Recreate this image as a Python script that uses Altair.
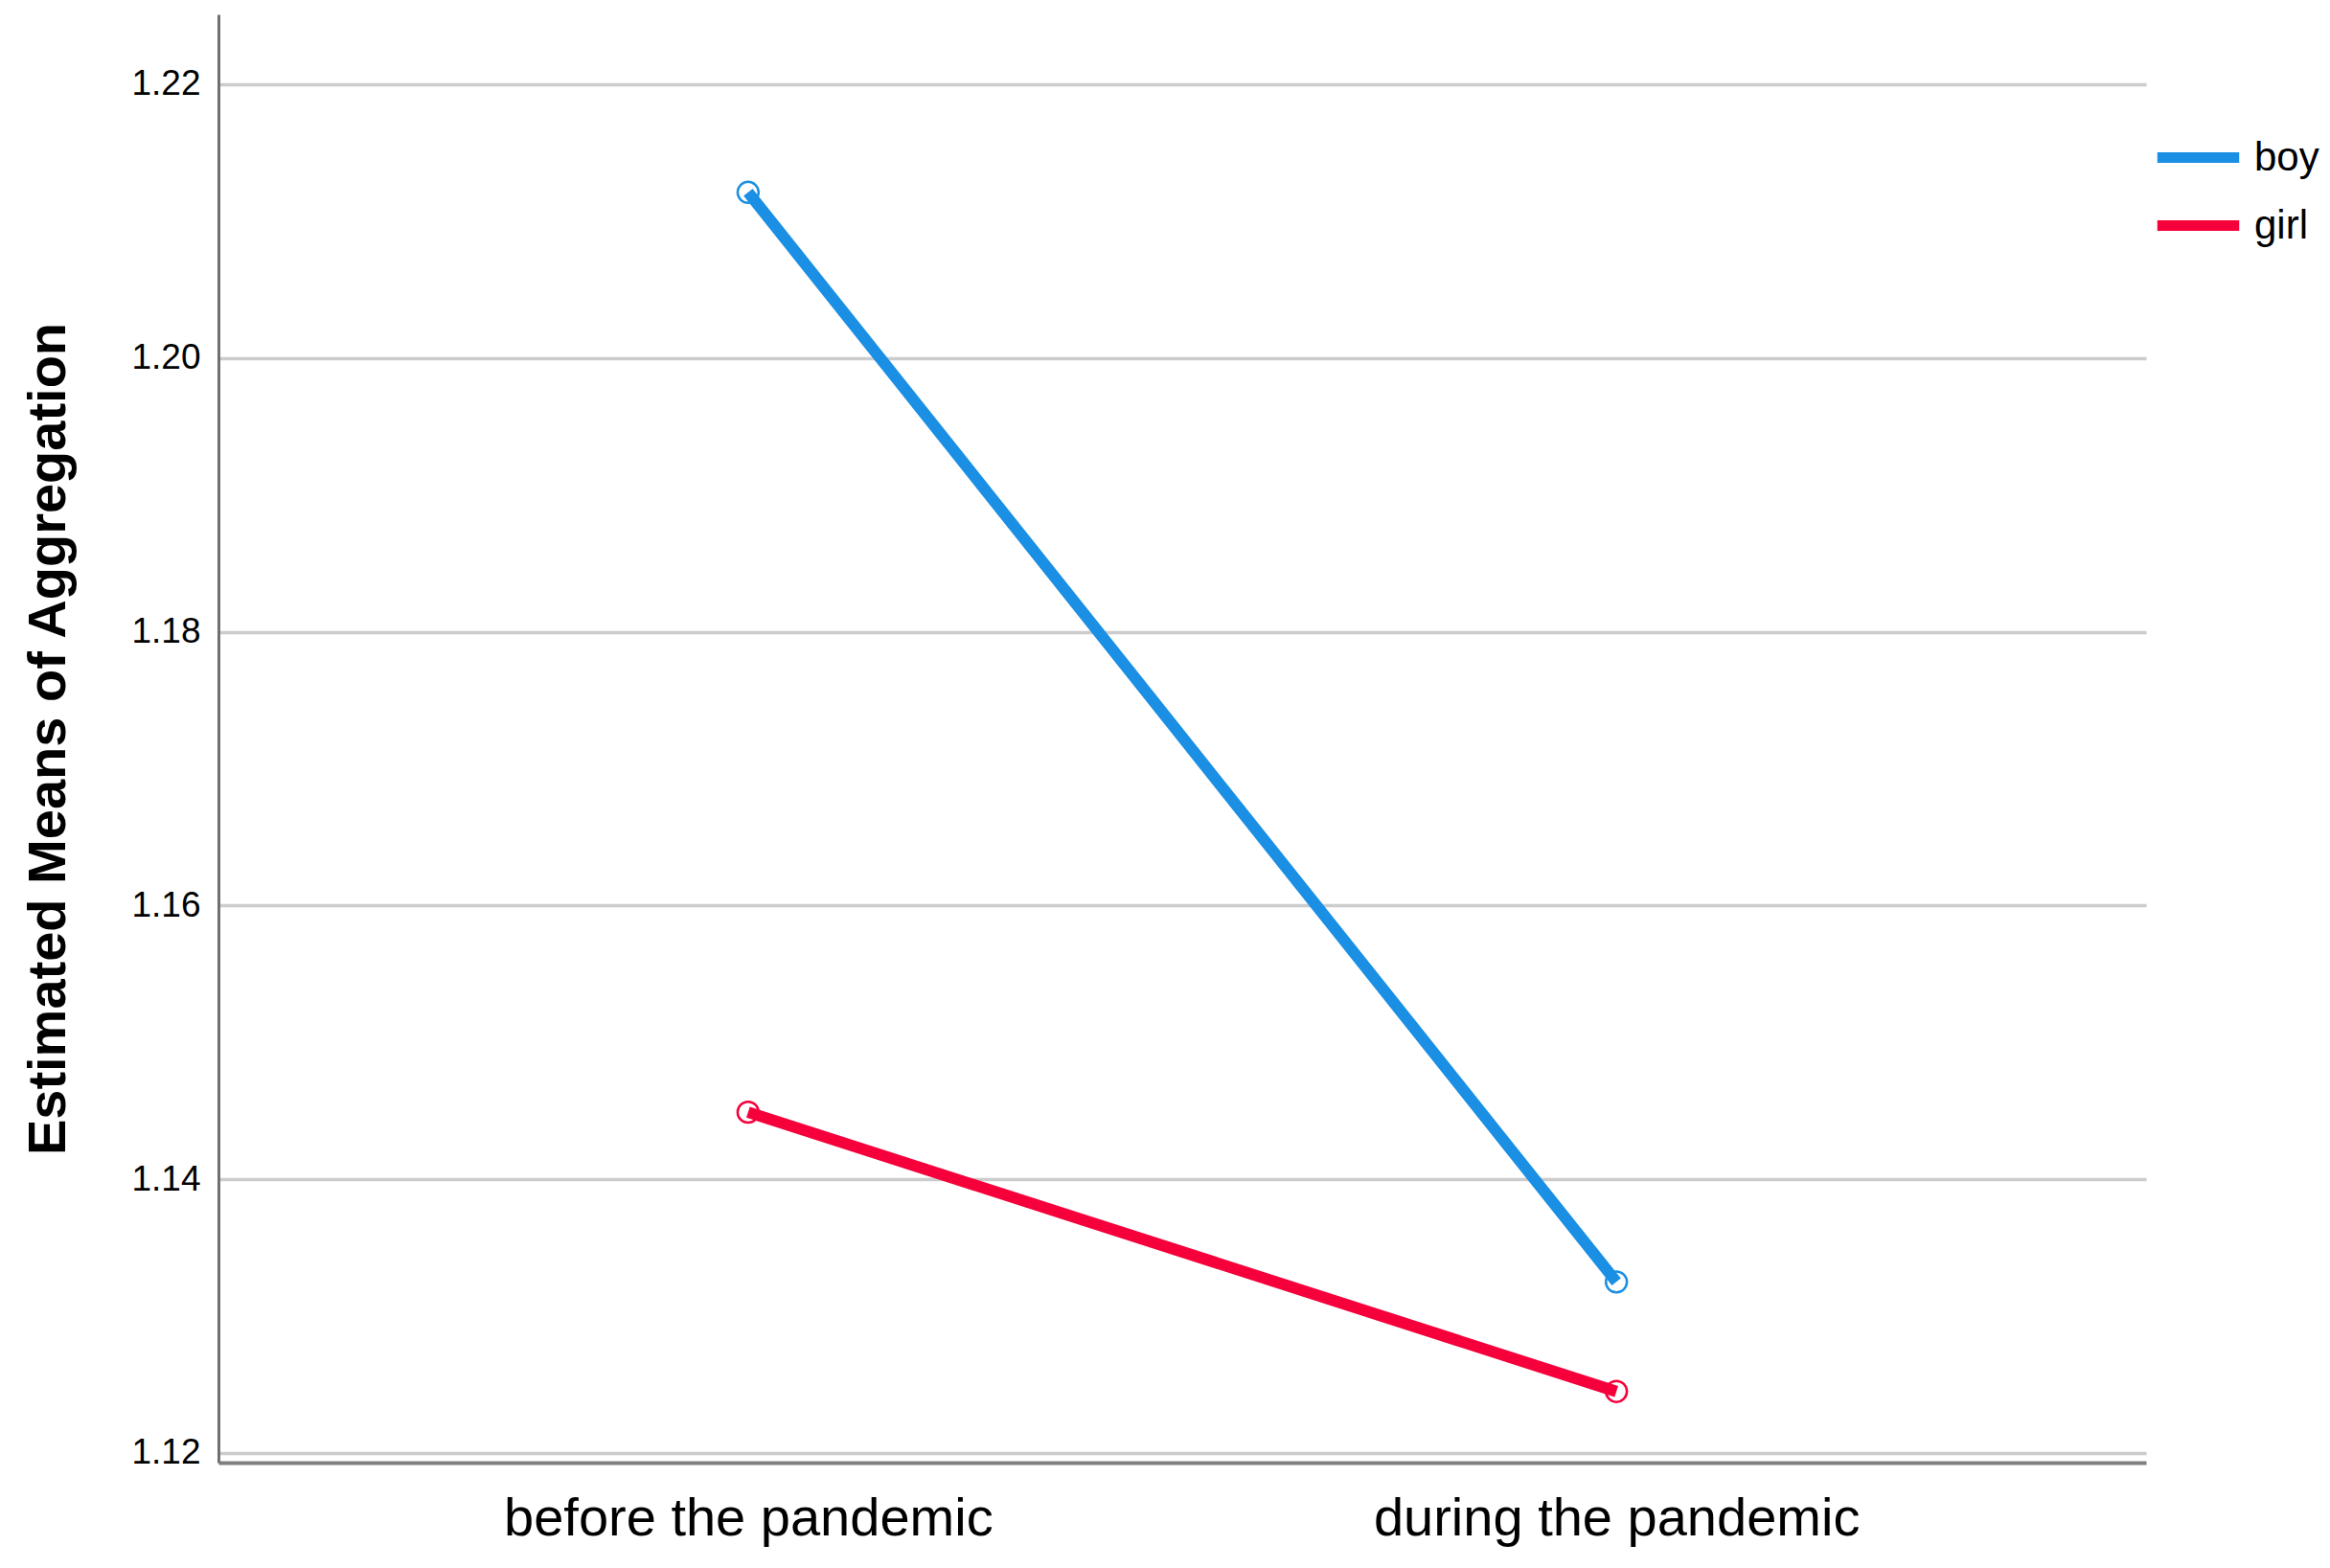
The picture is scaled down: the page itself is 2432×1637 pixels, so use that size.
import altair as alt
import pandas as pd

periods = ["before the pandemic", "during the pandemic"]
boy = [1.2121, 1.1325]
girl = [1.1449, 1.1245]
y_ticks = [1.12, 1.14, 1.16, 1.18, 1.20, 1.22]
groups = ["boy", "girl"]
colors = ["#1a8fe3", "#f5003a"]

rows = []
for p, v in zip(periods, boy):
    rows.append({"period": p, "sex": "boy", "mean": v})
for p, v in zip(periods, girl):
    rows.append({"period": p, "sex": "girl", "mean": v})
df = pd.DataFrame(rows)

FONT = "Liberation Sans"

x = alt.X("period:N", sort=periods,
          scale=alt.Scale(type="point", padding=0.61),
          axis=alt.Axis(title=None, labelFontSize=56, labelFont=FONT, labelColor="#000000",
                        labelPadding=31, labelLimit=0, ticks=False, grid=False,
                        domainColor="#808080", domainWidth=4, labelAngle=0))
y = alt.Y("mean:Q",
          scale=alt.Scale(domain=[1.1193, 1.2251], nice=False, zero=False),
          axis=alt.Axis(title="Estimated Means of Aggregation", values=y_ticks, format=".2f",
                        labelFontSize=37, labelFont=FONT, labelColor="#000000", labelPadding=19,
                        ticks=False, grid=True, gridColor="#cccccc", gridWidth=3.5,
                        domainColor="#707070", domainWidth=3,
                        titleFontSize=56, titleFont=FONT, titleFontWeight="bold",
                        titleColor="#000000", titleX=-178, titleBaseline="middle"))
color = alt.Color("sex:N", scale=alt.Scale(domain=groups, range=colors),
                  legend=alt.Legend(title=None, orient="none", legendX=2018, legendY=101,
                                    symbolType="stroke", symbolSize=7300, symbolStrokeWidth=11,
                                    labelFontSize=42, labelFont=FONT, labelColor="#000000",
                                    labelOffset=10, padding=0, rowPadding=-14))

lines = alt.Chart(df).mark_line(strokeWidth=12).encode(x=x, y=y, color=color)
points = alt.Chart(df).mark_point(filled=False, size=480, strokeWidth=2.5, opacity=1).encode(
    x=x, y=y, color=alt.Color("sex:N", scale=alt.Scale(domain=groups, range=colors), legend=None))

chart = (lines + points).properties(
    width=2012, height=1512,
    autosize=alt.AutoSizeParams(type="none"),
    padding={"left": 220, "top": 7, "right": 184, "bottom": 102},
    background="white",
).configure_view(stroke=None)

chart.save("out.html", embed_options={"renderer": "svg", "actions": False})
